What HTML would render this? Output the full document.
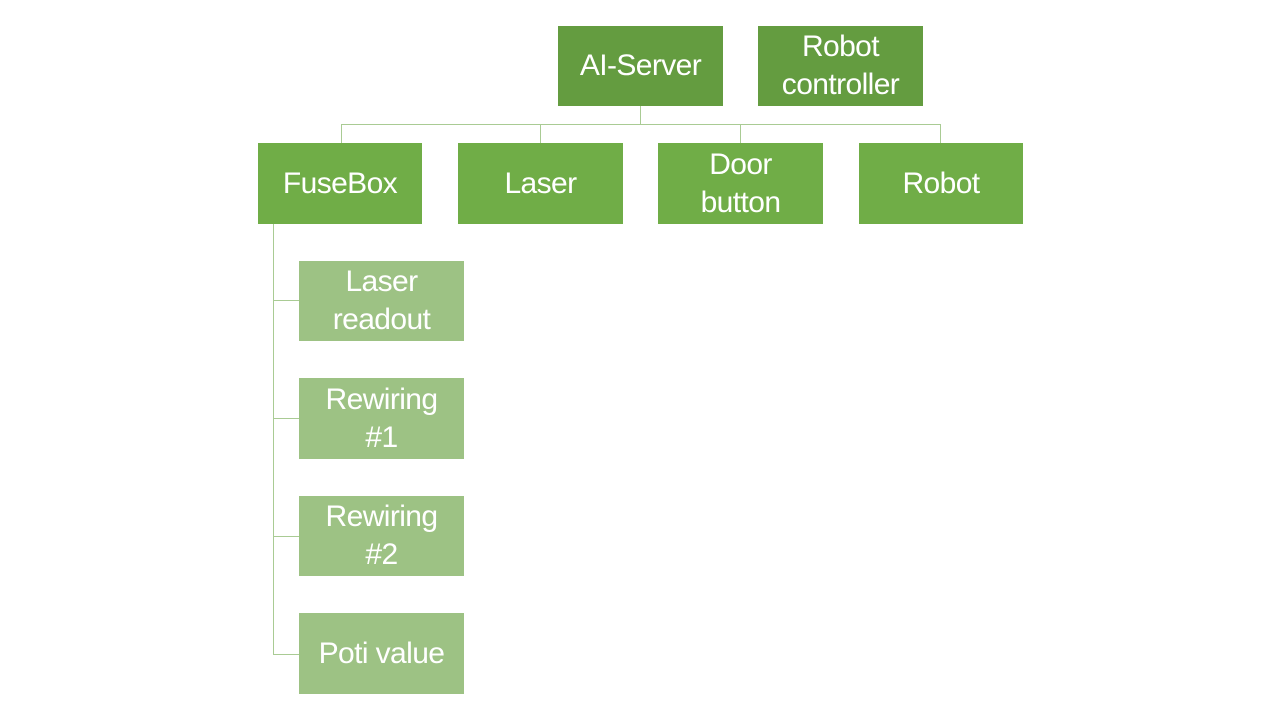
<!DOCTYPE html>
<html><head><style>
body{margin:0;width:1280px;height:720px;background:#fff;position:relative;overflow:hidden;font-family:"Liberation Sans",sans-serif}
.b{position:absolute;display:flex;align-items:center;justify-content:center;text-align:center;color:#fff;font-size:30px;line-height:38px;letter-spacing:-0.6px}
.d{background:#649c40}.m{background:#70ad47}.l{background:#9dc284}
.ln{position:absolute;background:#a9cb94}
</style></head><body>
<div class="ln" style="left:640px;top:106px;width:1px;height:19px"></div>
<div class="ln" style="left:341px;top:124px;width:600px;height:1px"></div>
<div class="ln" style="left:341px;top:124px;width:1px;height:19px"></div>
<div class="ln" style="left:540px;top:124px;width:1px;height:19px"></div>
<div class="ln" style="left:740px;top:124px;width:1px;height:19px"></div>
<div class="ln" style="left:940px;top:124px;width:1px;height:19px"></div>
<div class="ln" style="left:273px;top:224px;width:1px;height:431px"></div>
<div class="ln" style="left:273px;top:300px;width:26px;height:1px"></div>
<div class="ln" style="left:273px;top:418px;width:26px;height:1px"></div>
<div class="ln" style="left:273px;top:536px;width:26px;height:1px"></div>
<div class="ln" style="left:273px;top:654px;width:26px;height:1px"></div>
<div class="b d" style="left:558px;top:26px;width:165px;height:80px">AI-Server</div>
<div class="b d" style="left:758px;top:26px;width:165px;height:80px">Robot<br>controller</div>
<div class="b m" style="left:258px;top:143px;width:164px;height:81px">FuseBox</div>
<div class="b m" style="left:458px;top:143px;width:165px;height:81px">Laser</div>
<div class="b m" style="left:658px;top:143px;width:165px;height:81px">Door<br>button</div>
<div class="b m" style="left:859px;top:143px;width:164px;height:81px">Robot</div>
<div class="b l" style="left:299px;top:261px;width:165px;height:80px">Laser<br>readout</div>
<div class="b l" style="left:299px;top:378px;width:165px;height:81px">Rewiring<br>#1</div>
<div class="b l" style="left:299px;top:496px;width:165px;height:80px">Rewiring<br>#2</div>
<div class="b l" style="left:299px;top:613px;width:165px;height:81px">Poti value</div>
</body></html>
